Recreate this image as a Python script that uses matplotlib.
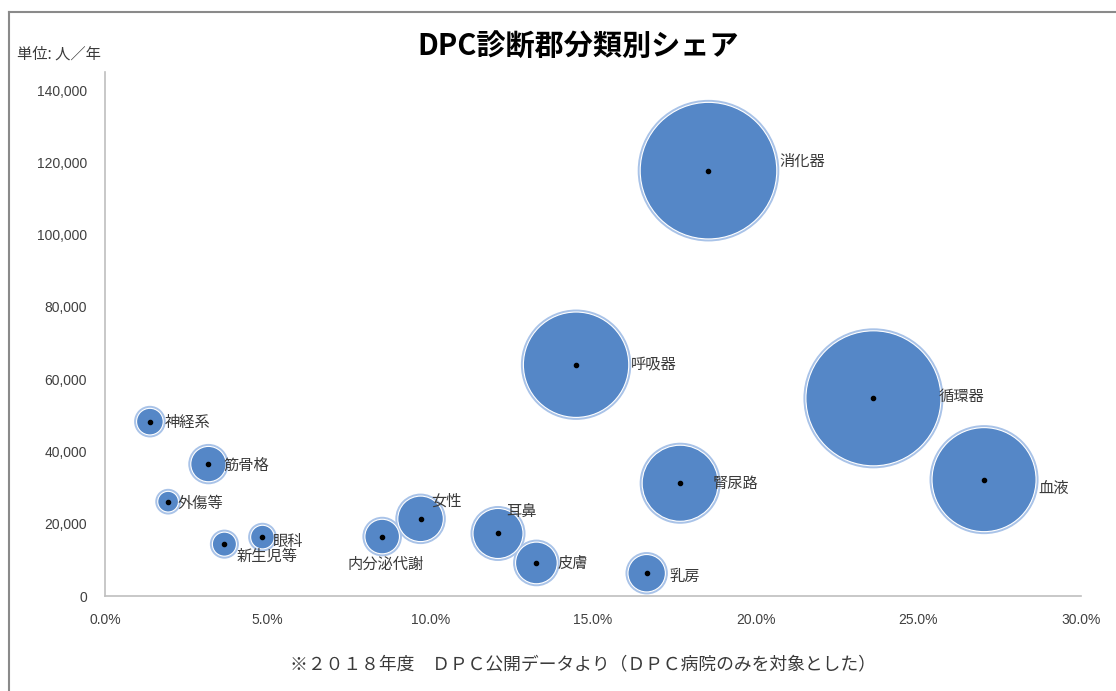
import numpy as np
import matplotlib
matplotlib.use('Agg')
import matplotlib.pyplot as plt
from matplotlib.ticker import FuncFormatter
from matplotlib.lines import Line2D

plt.rcParams['font.family'] = ['Noto Sans CJK JP', 'DejaVu Sans']

# ---- data ----
categories = ['消化器', '呼吸器', '循環器', '血液', '腎尿路', '乳房', '皮膚', '耳鼻',
              '女性', '内分泌代謝', '眼科', '新生児等', '外傷等', '筋骨格', '神経系']
share = [0.1855, 0.1448, 0.2362, 0.2702, 0.1768, 0.1665, 0.1326, 0.1208,
         0.0970, 0.0852, 0.0484, 0.0367, 0.0194, 0.0318, 0.0138]
patients = [117700, 64000, 54700, 32200, 31200, 6300, 9150, 17300,
            21350, 16450, 16300, 14350, 26100, 36500, 48250]
bubble = [100, 59.5, 97.7, 58, 31, 7.5, 9.3, 13.4,
          11.1, 6.4, 3.0, 3.1, 2.3, 6.7, 3.8]

x_ticks = [0.0, 0.05, 0.10, 0.15, 0.20, 0.25, 0.30]
y_ticks = [0, 20000, 40000, 60000, 80000, 100000, 120000, 140000]

# label offsets in px (dx, dy down) and alignment
lab_off = {'消化器': (70.7, -9.3, 'left'), '呼吸器': (55, -1, 'left'),
           '循環器': (65.7, -1.7, 'left'), '血液': (54, 9.3, 'left'),
           '腎尿路': (32, 0.7, 'left'), '乳房': (22.3, 3.4, 'left'),
           '皮膚': (21.4, 0.3, 'left'), '耳鼻': (8.7, -21.4, 'left'),
           '女性': (11, -18, 'left'), '内分泌代謝': (3, 27.6, 'center'),
           '眼科': (10.4, 4.4, 'left'), '新生児等': (12.4, 12.4, 'left'),
           '外傷等': (9.3, 1.3, 'left'), '筋骨格': (15, 1.4, 'left'),
           '神経系': (15, 0.7, 'left')}

W, H, DPI = 1116, 691, 100
fig = plt.figure(figsize=(W / DPI, H / DPI), dpi=DPI)
fig.patch.set_facecolor('white')
ax = fig.add_axes([105 / W, 1 - 596 / H, (1081 - 105) / W, (596 - 72) / H])

pt = 72 / DPI
r_max = 68.3  # px radius of the biggest bubble
r_px = r_max * np.sqrt(np.array(bubble) / max(bubble))

# halo + fill + center dot
ax.scatter(share, patients, s=(2 * (r_px + 2.5) * pt) ** 2, color='#a9c3e8',
           linewidths=0, zorder=2)
ax.scatter(share, patients, s=(2 * r_px * pt) ** 2, color='#5587c7',
           edgecolors='white', linewidths=0.8, zorder=3)
ax.scatter(share, patients, s=9, color='black', zorder=4)

for name, xv, yv in zip(categories, share, patients):
    dx, dy, ha = lab_off[name]
    ax.annotate(name, (xv, yv), xytext=(dx * pt, -dy * pt), textcoords='offset points',
                ha=ha, va='center', fontsize=11, color='#3a3a3a', zorder=5)

ax.set_xlim(0, 0.30)
ax.set_ylim(0, 145000)
ax.set_xticks(x_ticks)
ax.set_yticks(y_ticks)
ax.xaxis.set_major_formatter(FuncFormatter(lambda v, p: f'{v * 100:.1f}%'))
ax.yaxis.set_major_formatter(FuncFormatter(lambda v, p: f'{int(v):,}'))
ax.tick_params(length=0, labelsize=10, colors='#404040')
ax.tick_params(axis='y', pad=13)
ax.tick_params(axis='x', pad=12)
for lab in ax.get_xticklabels() + ax.get_yticklabels():
    lab.set_family(['Liberation Sans', 'DejaVu Sans'])
for s in ['top', 'right']:
    ax.spines[s].set_visible(False)
for s in ['left', 'bottom']:
    ax.spines[s].set_color('#bfbfbf')
    ax.spines[s].set_linewidth(1.2)
ax.set_facecolor('white')

fig.text(578 / W, 1 - 46 / H, 'DPC診断郡分類別シェア', ha='center', va='center',
         fontsize=21, fontweight='bold', color='black')
fig.text(17 / W, 1 - 54 / H, '単位: 人／年', ha='left', va='center',
         fontsize=11, color='#3a3a3a')
fig.text(583 / W, 1 - 664 / H,
         '※２０１８年度　ＤＰＣ公開データより（ＤＰＣ病院のみを対象とした）',
         ha='center', va='center', fontsize=12.8, color='#3a3a3a')

# outer frame (top and left edges visible)
fig.add_artist(Line2D([9 / W, 1], [1 - 12 / H, 1 - 12 / H], color='#8a8a8a', lw=1.5))
fig.add_artist(Line2D([9 / W, 9 / W], [0, 1 - 12 / H], color='#8a8a8a', lw=1.5))

fig.savefig('out.png', dpi=DPI)
